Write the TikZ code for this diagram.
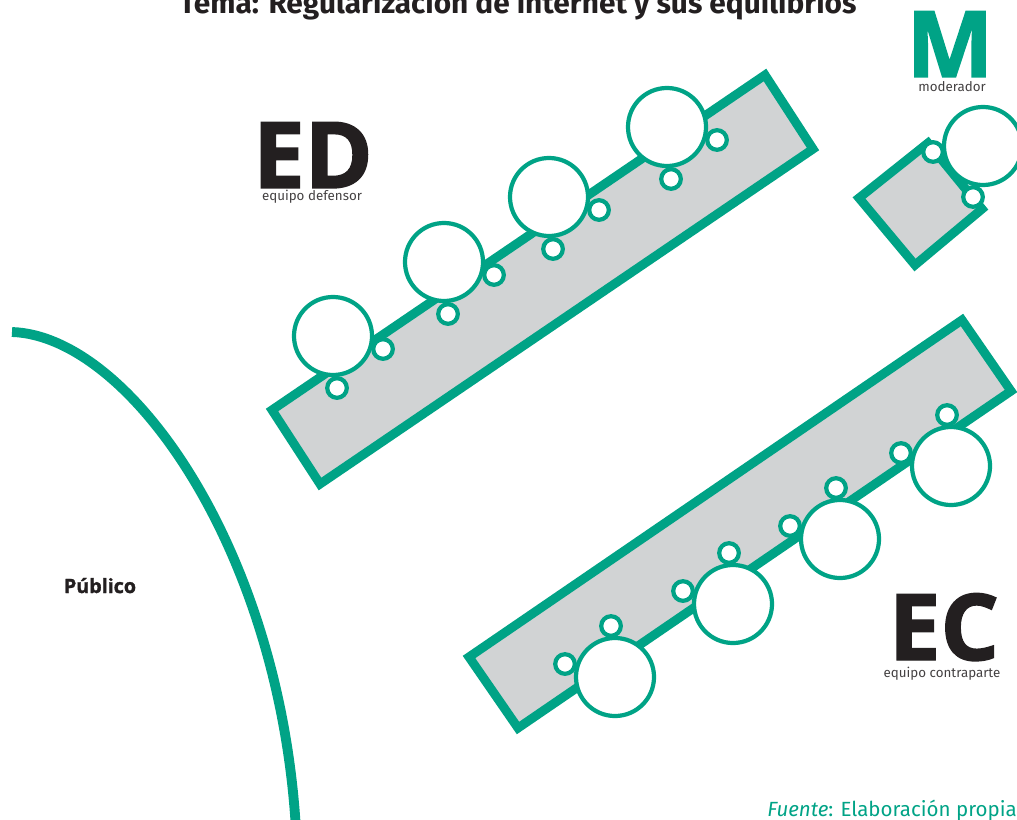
\documentclass[tikz,border=0pt]{standalone}
\usepackage{fontspec}
\setmainfont{Fira Sans}
\newfontfamily\heavyfont{Open Sans}[BoldFeatures={FakeBold=1.6}]
\usepackage{xcolor}
\definecolor{verde}{RGB}{0,163,134}
\definecolor{gris}{RGB}{209,211,212}
\definecolor{tinta}{RGB}{35,31,32}
\tikzstyle{mesa}=[draw=verde, fill=gris, line width=6.4pt]
\tikzstyle{silla}=[circle, draw=verde, fill=white, line width=3pt, minimum size=1.95cm, inner sep=0pt]
\tikzstyle{micro}=[circle, draw=verde, fill=white, line width=3pt, minimum size=0.49cm, inner sep=0pt]
\tikzstyle{sigla}=[font=\heavyfont\bfseries\fontsize{65.5}{66}\selectfont, anchor=base, inner sep=0pt, text=tinta]
\tikzstyle{rol}=[font=\fontsize{9.5}{10}\selectfont, anchor=base, inner sep=0pt, text=tinta!85]

\begin{document}
\begin{tikzpicture}[x=0.025cm, y=-0.025cm]
\useasboundingbox (0,0) rectangle (1017,820);
\clip (0,0) rectangle (1017,820);
\node[font=\bfseries\fontsize{21.2}{22}\selectfont, anchor=base, text=tinta] (tema) at (518,14) {Tema: Regularización de internet y sus equilibrios};

\draw[verde, line width=7pt] (12,332) .. controls (130,336) and (280,550) .. (296,830);
\node[font=\heavyfont\bfseries\fontsize{14}{15}\selectfont, anchor=base, text=tinta] (publico) at (100,593) {Público};

\draw[mesa] (272,410) -- (320,484) -- (813,149) -- (765,75) -- cycle;
\draw[mesa] (469,657) -- (518,728) -- (1011,391) -- (962,320) -- cycle;
\draw[mesa] (859,198) -- (915,265) -- (982,209) -- (928,143) -- cycle;

\foreach \n/\x/\y in {1/333/336, 2/444/262, 3/549/197, 4/667/127} {
  \node[micro] (ed\n a) at (\x+50,\y+13) {};
  \node[micro] (ed\n b) at (\x+4,\y+52) {};
  \node[silla] (ed\n) at (\x,\y) {};
}
\foreach \n/\x/\y in {1/615/677, 2/733/604, 3/840/539, 4/951/466} {
  \node[micro] (ec\n a) at (\x-50,\y-13) {};
  \node[micro] (ec\n b) at (\x-4,\y-51) {};
  \node[silla] (ec\n) at (\x,\y) {};
}
\node[micro] (m1a) at (933,152) {};
\node[micro] (m1b) at (973,197) {};
\node[silla] (m1) at (983,146) {};

\node[sigla] (ed) at (313,188) {ED};
\node[rol] (edrol) at (312,201) {equipo defensor};
\node[sigla] (ec) at (944,660) {EC};
\node[rol] (ecrol) at (942,677) {equipo contraparte};
\node[sigla, text=verde] (m) at (950,77) {M};
\node[rol] (mrol) at (952,92) {moderador};

\node[font=\fontsize{14.6}{15}\selectfont, text=verde, anchor=base east, inner sep=0pt] (fuente) at (1017,816) {\textit{Fuente}: Elaboración propia};
\end{tikzpicture}
\end{document}
